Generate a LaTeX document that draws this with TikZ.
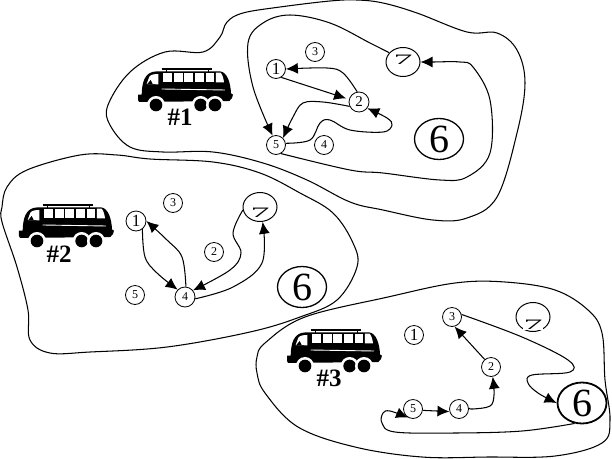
\documentclass[tikz,border=0pt]{standalone}
\usepackage{fontspec}
\setmainfont{Liberation Serif}
\usetikzlibrary{arrows.meta,shapes.geometric}
\newcommand{\sevenglyph}{\scalebox{0.95}[0.36]{\fontsize{40}{40}\selectfont 7}}
\newcommand{\busfig}[2]{%
  \begin{scope}[shift={(130+#1,#2)},x=.3333pt,y=-.3333pt]
    \fill[black] (24,284) -- (35,284) .. controls (36,250) and (42,215) .. (80,214)
      -- (270,214) .. controls (292,216) and (302,250) .. (303,280) -- (309,284) -- (306,294) -- (298,303)
      -- (27,306) -- (24,300) -- cycle;
    \fill[white] (50,252) -- (58,230) .. controls (62,224) and (72,222) .. (85,222) -- (85,253) -- cycle;
    \fill[black] (52,252) -- (62,240) -- (68,252) -- cycle;
    \foreach \a/\b in {100/127,132/158,163/190,195/222,227/252} \fill[white] (\a,218) rectangle (\b,247);
    \fill[white] (258,218) -- (272,218) .. controls (278,224) and (281,238) .. (282,247) -- (258,247) -- cycle;
    \draw[white,line width=.9pt] (95,267) -- (285,270);
    \draw[black,line width=1.5pt] (95,207) -- (245,207);
    \draw[black,line width=.7pt] (110,207) -- (110,216) (235,207) -- (235,216);
    \foreach \c in {78,212,255} {\fill[white] (\c,315) circle (27); \fill[black] (\c,315) circle (19);}
  \end{scope}}
\tikzset{
  contour/.style={draw=black,line width=1.05pt},
  route/.style={draw=black,line width=1.05pt,-{Latex[length=12pt,width=11pt]}},
  stop/.style={circle,draw=black,fill=white,line width=.8pt,inner sep=0pt,minimum size=#1},
  stop/.default=19pt,
  big/.style={ellipse,draw=black,fill=white,line width=1.3pt,inner sep=0pt,minimum width=49pt,minimum height=41pt,font=\fontsize{40}{40}\selectfont},
  sevenbox/.style={ellipse,draw=black,fill=white,line width=1pt,inner sep=0pt,minimum width=34pt,minimum height=29pt},
  sevenmark/.style={label={[yshift=#1,inner sep=.5pt,fill=white]center:\sevenglyph}},
  small/.style={font=\fontsize{12}{12}\selectfont},
  large/.style={font=\fontsize{17}{17}\selectfont},
  busname/.style={font=\fontsize{25}{25}\selectfont\bfseries}
}
\begin{document}
\begin{tikzpicture}[x=1pt,y=-1pt]
\useasboundingbox[fill=white] (0,0) rectangle (612,458);
% regions
\draw[contour] plot[smooth cycle,tension=.6] coordinates {(108,105) (130,72) (165,52) (203,52) (220,37) (227,22) (243,13) (280,7) (330,1) (357,0) (383,3) (417,13) (467,32) (497,33) (517,50) (525,83) (517,133) (497,197) (467,218) (433,220) (383,210) (350,202) (307,180) (263,163) (213,152) (163,152) (130,147) (110,125)};
\draw[contour] plot[smooth cycle,tension=.6] coordinates {(2,207) (7,187) (27,170) (80,155) (117,155) (150,159) (213,162) (260,173) (300,193) (333,213) (353,243) (357,267) (337,300) (300,317) (250,332) (167,347) (90,352) (50,353) (30,340) (28,310) (17,267) (2,222)};
\draw[contour] plot[smooth cycle,tension=.6] coordinates {(257,357) (265,343) (305,317) (388,297) (455,283) (505,282) (555,290) (588,310) (602,333) (605,380) (610,420) (602,443) (555,456) (488,457) (422,457) (355,447) (298,427) (265,393) (257,373)};
% buses
\busfig{0}{0}
\busfig{-119}{136}
\busfig{149}{261}
\node[busname] (n1) at (180,117) {\#1};
\node[busname] (n2) at (59,254) {\#2};
\node[busname] (n3) at (329,378) {\#3};
% group 1
\node[stop,large] (a1) at (276,69) {1};
\node[stop=20pt,small,font=\fontsize{15}{15}\selectfont] (a2) at (359,102) {2};
\node[stop,small] (a3) at (315,52) {3};
\node[stop,small] (a4) at (324,145) {4};
\node[stop,small] (a5) at (276,145) {5};
\node[sevenbox,sevenmark=2pt] (a7) at (403,62) {};
\node[big] (a6) at (439,139) {6};
\draw[route] plot[smooth,tension=.6] coordinates {(a7.146) (370,43) (330,23) (290,15) (263,23) (248,43) (253,87) (a5.110)};
\draw[route] plot[smooth,tension=.6] coordinates {(a2.100) (343,73) (327,68) (a1.0)};
\draw[route,shorten >=3pt] (a1.-58) -- (a2.165);
\draw[route] plot[smooth,tension=.6] coordinates {(a2.205) (323,102) (303,103) (293,117) (a5.45)};
\draw[route] plot[smooth,tension=.6] coordinates {(a5.10) (310,140) (320,123) (330,120) (350,130) (383,132) (392,125) (387,118) (a2.-37)};
\draw[route] plot[smooth,tension=.6] coordinates {(a5.-60) (350,170) (383,173) (440,180) (467,177) (490,153) (490,100) (473,67) (460,62) (433,62) (a7.east)};
% group 2
\node[stop=20pt,large] (b1) at (136,221) {1};
\node[stop,small] (b2) at (214,252) {2};
\node[stop,small] (b3) at (173,203) {3};
\node[stop=20pt,small] (b4) at (185,297) {4};
\node[stop,small] (b5) at (135,295) {5};
\node[sevenbox,sevenmark=-6pt] (b7) at (260,207) {};
\node[big] (b6) at (302,287) {6};
\draw[route] plot[smooth,tension=.6] coordinates {(b1.-52) (145,257) (157,273) (b4.135)};
\draw[route] plot[smooth,tension=.6] coordinates {(b4.85) (182,257) (167,240) (b1.0)};
\draw[route] plot[smooth,tension=.6] coordinates {(b7.190) (233,233) (241,253) (230,270) (b4.40)};
\draw[route] plot[smooth,tension=.6] coordinates {(b4.-10) (233,287) (262,263) (b7.-80)};
% group 3
\node[stop,large] (c1) at (414,335) {1};
\node[stop,small] (c2) at (491,367) {2};
\node[stop,small] (c3) at (452,317) {3};
\node[stop,small] (c4) at (459,409) {4};
\node[stop,small] (c5) at (413,409) {5};
\node[sevenbox,sevenmark=-8pt] (c7) at (533,317) {};
\node[big,line width=1.8pt] (c6) at (582,403) {6};
\draw[route] (c2.130) -- (c3.-75);
\draw[route] (c5.-8) -- (c4.195);
\draw[route] plot[smooth,tension=.6] coordinates {(c4.5) (473,409) (490,406) (494,395) (c2.-80)};
\draw[route] plot[smooth,tension=.6] coordinates {(c3.15) (522,337) (568,360) (570,372) (532,375) (528,383) (538,393) (c6.west)};
\draw[route] plot[smooth,tension=.6] coordinates {(c6.-110) (522,431) (455,433) (395,432) (382,423) (383,413) (390,411) (c5.-120)};
\end{tikzpicture}
\end{document}
